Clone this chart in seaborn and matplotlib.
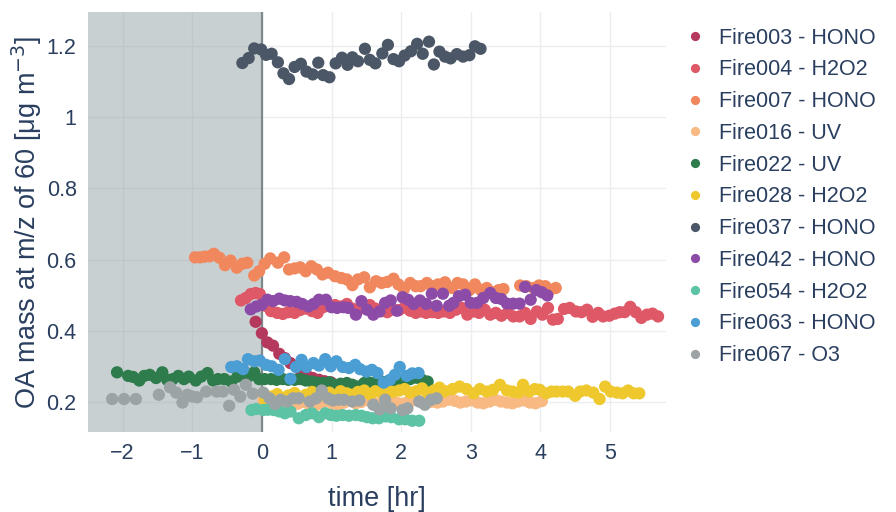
import pandas as pd
import seaborn as sns
import matplotlib.pyplot as plt

# values (time in hr, OA mass in ug m-3)
fire003_x = [-0.09, 0.00, 0.08, 0.16, 0.25, 0.33, 0.41, 0.50, 0.57, 0.64, 0.73, 0.82, 0.90, 0.99]
fire003_y = [0.425, 0.393, 0.367, 0.358, 0.335, 0.323, 0.309, 0.298, 0.281, 0.276, 0.267, 0.262, 0.258, 0.255]

fire004_x = [-0.30, -0.23, -0.16, -0.09, -0.03,
             0.05, 0.13, 0.22, 0.30, 0.38, 0.47, 0.55, 0.63, 0.72, 0.80, 0.88, 0.97, 1.05, 1.13,
             1.22, 1.30, 1.38, 1.47, 1.55, 1.63, 1.72, 1.80, 1.88, 1.97, 2.05, 2.13, 2.21,
             2.29, 2.36, 2.45, 2.53, 2.61, 2.70, 2.79, 2.87, 2.95, 3.04, 3.12, 3.20, 3.28, 3.36,
             3.44, 3.53, 3.61, 3.70, 3.78, 3.86, 3.95, 4.03, 4.11, 4.18, 4.25, 4.34, 4.42, 4.51,
             4.59, 4.67, 4.75, 4.83, 4.90, 4.99, 5.07, 5.14, 5.21, 5.29, 5.37, 5.45, 5.53, 5.61, 5.69]
fire004_y = [0.485, 0.492, 0.503, 0.506, 0.503,
             0.470, 0.455, 0.450, 0.447, 0.452, 0.450, 0.458, 0.462, 0.455, 0.450, 0.466, 0.470, 0.472, 0.468,
             0.475, 0.462, 0.458, 0.466, 0.472, 0.462, 0.455, 0.452, 0.460, 0.458, 0.465, 0.456, 0.450,
             0.454, 0.450, 0.452, 0.450, 0.454, 0.450, 0.459, 0.464, 0.445, 0.454, 0.450, 0.459, 0.445, 0.450,
             0.442, 0.450, 0.440, 0.440, 0.450, 0.433, 0.454, 0.445, 0.464, 0.431, 0.433, 0.461, 0.464, 0.454,
             0.452, 0.459, 0.439, 0.450, 0.440, 0.442, 0.448, 0.452, 0.452, 0.467, 0.452, 0.436, 0.445, 0.448, 0.440]

fire007_x = [-0.96, -0.89, -0.82, -0.75, -0.69, -0.61, -0.53, -0.45, -0.36, -0.28, -0.21, -0.11, -0.04,
             0.04, 0.12, 0.23, 0.32, 0.39, 0.47, 0.55, 0.63, 0.71, 0.79, 0.87, 0.95, 1.05, 1.14, 1.22,
             1.30, 1.38, 1.47, 1.55, 1.64, 1.72, 1.80, 1.89, 1.96, 2.04, 2.13, 2.21, 2.28, 2.37,
             2.44, 2.53, 2.63, 2.73, 2.81, 2.89, 2.98, 3.06, 3.14, 3.23, 3.31, 3.40, 3.47,
             3.71, 3.80, 3.90, 3.98, 4.07, 4.14, 4.22]
fire007_y = [0.606, 0.606, 0.608, 0.609, 0.616, 0.605, 0.584, 0.597, 0.577, 0.588, 0.591, 0.555, 0.567,
             0.588, 0.603, 0.591, 0.606, 0.572, 0.575, 0.578, 0.567, 0.581, 0.572, 0.558, 0.563, 0.553, 0.548, 0.544,
             0.528, 0.544, 0.550, 0.522, 0.539, 0.534, 0.537, 0.546, 0.530, 0.517, 0.534, 0.525, 0.525, 0.534,
             0.525, 0.530, 0.536, 0.520, 0.534, 0.530, 0.514, 0.530, 0.515, 0.520, 0.508, 0.514, 0.517,
             0.527, 0.525, 0.520, 0.527, 0.525, 0.515, 0.520]

fire016_x = [0.02, 0.10, 0.18, 0.27, 0.35, 0.43, 0.52, 0.60, 0.68, 0.77, 0.85, 0.93, 1.02, 1.10, 1.18,
             1.27, 1.35, 1.43, 1.52, 1.60, 1.68, 1.77, 1.85, 1.93, 2.02, 2.10, 2.18, 2.27, 2.35, 2.43,
             2.52, 2.60, 2.68, 2.77, 2.85, 2.93, 3.02, 3.10, 3.18, 3.27, 3.35, 3.43, 3.52, 3.60, 3.68,
             3.77, 3.85, 3.93, 4.02]
fire016_y = [0.205, 0.198, 0.192, 0.200, 0.196, 0.190, 0.195, 0.200, 0.193, 0.190, 0.198, 0.202, 0.195, 0.192, 0.198,
             0.203, 0.196, 0.200, 0.205, 0.198, 0.195, 0.200, 0.203, 0.198, 0.195, 0.200, 0.205, 0.201, 0.196, 0.200,
             0.198, 0.201, 0.206, 0.203, 0.198, 0.201, 0.204, 0.198, 0.196, 0.201, 0.206, 0.201, 0.198, 0.196, 0.201,
             0.204, 0.198, 0.196, 0.202]

fire022_x = [-2.08, -1.92, -1.85, -1.76, -1.69, -1.61, -1.52, -1.43, -1.36, -1.28, -1.20, -1.12, -1.05, -0.95,
             -0.87, -0.78, -0.70, -0.63, -0.54, -0.44, -0.35, -0.26, -0.18, -0.11, -0.04, 0.04, 0.13,
             0.21, 0.30, 0.38, 0.47, 0.55, 0.63, 0.72, 0.80, 0.88, 0.97, 1.05, 1.13, 1.22, 1.30,
             1.38, 1.47, 1.55, 1.63, 1.72, 1.80, 1.88, 1.97, 2.05, 2.13, 2.22, 2.30, 2.38]
fire022_y = [0.283, 0.273, 0.270, 0.260, 0.273, 0.276, 0.267, 0.283, 0.262, 0.264, 0.273, 0.264, 0.271, 0.260,
             0.271, 0.281, 0.260, 0.264, 0.264, 0.257, 0.271, 0.276, 0.273, 0.283, 0.264, 0.264, 0.264,
             0.262, 0.264, 0.262, 0.262, 0.264, 0.260, 0.257, 0.254, 0.253, 0.255, 0.248, 0.251, 0.253, 0.248,
             0.243, 0.253, 0.254, 0.253, 0.257, 0.257, 0.253, 0.250, 0.262, 0.264, 0.268, 0.262, 0.257]

fire028_x = [0.05, 0.13, 0.22, 0.30, 0.38, 0.47, 0.55, 0.63, 0.72, 0.80, 0.88, 0.97, 1.05, 1.13, 1.22,
             1.30, 1.38, 1.47, 1.55, 1.63, 1.72, 1.80, 1.88, 1.97, 2.05, 2.13, 2.22, 2.30, 2.38, 2.47,
             2.55, 2.63, 2.74,
             2.84, 2.94, 3.04, 3.13, 3.23, 3.32, 3.42, 3.52, 3.60, 3.68, 3.75, 3.84, 3.92, 3.99, 4.08,
             4.16, 4.23, 4.32, 4.40, 4.50, 4.57, 4.66, 4.76, 4.85, 4.93, 5.01, 5.10, 5.18, 5.26, 5.34, 5.42]
fire028_y = [0.205, 0.215, 0.222, 0.210, 0.218, 0.225, 0.212, 0.220, 0.228, 0.215, 0.222, 0.226, 0.218, 0.230, 0.224,
             0.220, 0.228, 0.232, 0.222, 0.230, 0.226, 0.235, 0.228, 0.232, 0.236, 0.226, 0.230, 0.238, 0.226, 0.232,
             0.240, 0.230, 0.236,
             0.243, 0.236, 0.224, 0.236, 0.229, 0.234, 0.248, 0.232, 0.229, 0.226, 0.248, 0.229, 0.236, 0.234, 0.224,
             0.229, 0.229, 0.229, 0.229, 0.217, 0.229, 0.232, 0.226, 0.208, 0.243, 0.229, 0.226, 0.224, 0.232, 0.224, 0.224]

fire037_x = [-0.28, -0.19, -0.11, -0.01, 0.06, 0.14, 0.23, 0.31, 0.39, 0.47, 0.56, 0.64, 0.73, 0.81,
             0.88, 0.97, 1.06, 1.15, 1.23, 1.30, 1.38, 1.48, 1.55, 1.63, 1.73, 1.81, 1.89, 1.97,
             2.05, 2.14, 2.23, 2.31, 2.40, 2.47, 2.55, 2.63, 2.71, 2.80, 2.89, 2.98, 3.06, 3.14]
fire037_y = [1.152, 1.166, 1.193, 1.190, 1.175, 1.178, 1.154, 1.123, 1.107, 1.141, 1.150, 1.128, 1.120, 1.153,
             1.118, 1.112, 1.151, 1.167, 1.147, 1.168, 1.157, 1.192, 1.161, 1.151, 1.179, 1.203, 1.163, 1.157,
             1.173, 1.185, 1.206, 1.178, 1.212, 1.148, 1.184, 1.170, 1.165, 1.177, 1.170, 1.174, 1.199, 1.192]

fire042_x = [-0.16, -0.08, 0.00, 0.08, 0.16, 0.25, 0.33, 0.41, 0.50, 0.58, 0.67, 0.74, 0.82, 0.92, 1.00,
             1.08, 1.17, 1.24, 1.35, 1.43, 1.51, 1.60, 1.69, 1.77, 1.85, 1.94, 2.02, 2.10, 2.18, 2.27, 2.36,
             2.44, 2.51, 2.60, 2.69, 2.75, 2.83, 2.92, 3.00, 3.09, 3.18, 3.28, 3.36, 3.44, 3.52, 3.61,
             3.70, 3.78, 3.86, 3.94, 4.02, 4.10]
fire042_y = [0.460, 0.468, 0.473, 0.487, 0.483, 0.490, 0.485, 0.483, 0.481, 0.475, 0.468, 0.475, 0.487, 0.487, 0.466,
             0.464, 0.466, 0.464, 0.445, 0.483, 0.459, 0.445, 0.454, 0.478, 0.485, 0.456, 0.494, 0.487, 0.475, 0.485, 0.475,
             0.504, 0.470, 0.504, 0.470, 0.478, 0.497, 0.501, 0.478, 0.478, 0.492, 0.506, 0.492, 0.489, 0.476, 0.476,
             0.476, 0.523, 0.487, 0.514, 0.508, 0.499]

fire054_x = [-0.15, -0.08, 0.02, 0.09, 0.17, 0.25, 0.33, 0.41, 0.53, 0.63, 0.72, 0.82, 0.91, 0.99,
             1.07, 1.16, 1.25, 1.35, 1.43, 1.51, 1.59, 1.68, 1.78, 1.86, 1.97, 2.06, 2.16, 2.26]
fire054_y = [0.177, 0.180, 0.177, 0.178, 0.177, 0.173, 0.168, 0.173, 0.154, 0.163, 0.168, 0.157, 0.168, 0.163,
             0.161, 0.163, 0.161, 0.163, 0.161, 0.157, 0.154, 0.154, 0.159, 0.157, 0.151, 0.151, 0.147, 0.147]

fire063_x = [-0.44, -0.36, -0.27, -0.20, -0.11, -0.03, 0.06, 0.14, 0.24, 0.33, 0.41, 0.49, 0.57, 0.64,
             0.74, 0.82, 0.91, 0.99, 1.07, 1.16, 1.25, 1.34, 1.41, 1.50, 1.58, 1.66, 1.75, 1.84, 1.91,
             1.98, 2.08, 2.16, 2.25]
fire063_y = [0.298, 0.300, 0.292, 0.320, 0.314, 0.316, 0.304, 0.300, 0.290, 0.320, 0.265, 0.298, 0.318, 0.298,
             0.309, 0.302, 0.320, 0.300, 0.314, 0.298, 0.295, 0.304, 0.292, 0.285, 0.290, 0.281, 0.254, 0.262, 0.276,
             0.298, 0.273, 0.280, 0.281]

fire067_x = [-2.15, -1.98, -1.81, -1.48, -1.32, -1.23, -1.14, -1.07, -1.00, -0.93, -0.80, -0.65, -0.56,
             -0.47, -0.40, -0.31, -0.23, -0.13, 0.02, 0.11, 0.19, 0.27, 0.36, 0.45, 0.53, 0.69, 0.78,
             0.86, 0.95, 1.02, 1.10, 1.18, 1.30, 1.40, 1.60, 1.69, 1.77, 1.85, 2.02, 2.09, 2.26, 2.34, 2.43, 2.51]
fire067_y = [0.208, 0.208, 0.208, 0.220, 0.241, 0.226, 0.198, 0.220, 0.215, 0.213, 0.229, 0.229, 0.229,
             0.189, 0.234, 0.215, 0.248, 0.223, 0.226, 0.210, 0.194, 0.206, 0.201, 0.210, 0.210, 0.201, 0.210,
             0.232, 0.210, 0.204, 0.206, 0.206, 0.201, 0.204, 0.192, 0.179, 0.206, 0.182, 0.177, 0.182, 0.201, 0.192, 0.206, 0.210]

series = [
    ("Fire003 - HONO", fire003_x, fire003_y, "#b5385d"),
    ("Fire004 - H2O2", fire004_x, fire004_y, "#df5868"),
    ("Fire007 - HONO", fire007_x, fire007_y, "#f0875d"),
    ("Fire016 - UV", fire016_x, fire016_y, "#f8b982"),
    ("Fire022 - UV", fire022_x, fire022_y, "#2e7b4b"),
    ("Fire028 - H2O2", fire028_x, fire028_y, "#efc82e"),
    ("Fire037 - HONO", fire037_x, fire037_y, "#4b5766"),
    ("Fire042 - HONO", fire042_x, fire042_y, "#8d4ba8"),
    ("Fire054 - H2O2", fire054_x, fire054_y, "#5cc3a5"),
    ("Fire063 - HONO", fire063_x, fire063_y, "#4a9ed4"),
    ("Fire067 - O3", fire067_x, fire067_y, "#9ca3a5"),
]

frames = []
for name, xs, ys, _ in series:
    frames.append(pd.DataFrame({"time": xs, "oa": ys, "fire": name}))
df = pd.concat(frames, ignore_index=True)
palette = {name: col for name, _, _, col in series}

sns.set_theme(style="white")
plt.rcParams["font.family"] = ["Liberation Sans", "DejaVu Sans"]
text_col = "#2a3f5f"

fig = plt.figure(figsize=(8.96, 5.12), dpi=100)
ax = fig.add_axes([0.098, 0.156, 0.645, 0.821])

ax.grid(True, color="#ebedf0", linewidth=1)
ax.set_axisbelow(True)
ax.axvspan(-2.5, 0, color="#95a3a6", alpha=0.5, linewidth=0, zorder=1)
ax.axvline(0, color="#7d898c", linewidth=1.6, zorder=1.5)

sns.scatterplot(data=df, x="time", y="oa", hue="fire", palette=palette,
                s=78, linewidth=0, alpha=1, ax=ax, zorder=3)

ax.set_xlim(-2.5, 5.8)
ax.set_ylim(0.115, 1.296)
ax.set_xticks([-2, -1, 0, 1, 2, 3, 4, 5])
ax.set_yticks([0.2, 0.4, 0.6, 0.8, 1.0, 1.2])
ax.set_yticklabels(["0.2", "0.4", "0.6", "0.8", "1", "1.2"])
for s in ax.spines.values():
    s.set_visible(False)
ax.tick_params(axis="both", length=0, labelsize=15.5, labelcolor=text_col, pad=8)

ax.set_xlabel("time [hr]", fontsize=19.5, color=text_col, labelpad=16)
ax.set_ylabel(r"OA mass at m/z of 60 [μg m$^{-3}$]", fontsize=19.5, color=text_col, labelpad=2)

handles, labels = ax.get_legend_handles_labels()
ax.legend(handles, labels, loc="upper left", bbox_to_anchor=(1.017, 0.983),
          frameon=False, fontsize=15.5, labelcolor=text_col, handlelength=1.0,
          handletextpad=0.6, labelspacing=0.50, markerscale=0.75, borderaxespad=0)

fig.savefig("out.png", dpi=100)
